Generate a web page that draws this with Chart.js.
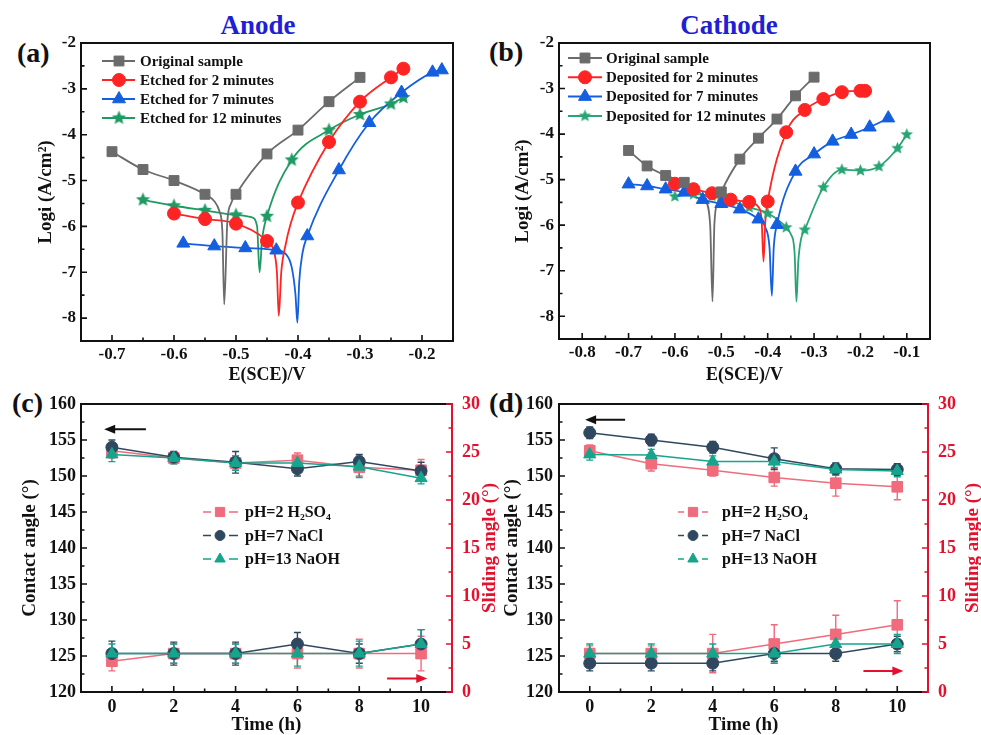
<!DOCTYPE html>
<html>
<head>
<meta charset="utf-8">
<script src="https://cdn.jsdelivr.net/npm/chart.js@4.4.1/dist/chart.umd.min.js"></script>
<style>
  body { margin: 0; background: #fff; width: 981px; height: 735px; overflow: hidden; position: relative; }
  canvas { position: absolute; }
  .lbl { position: absolute; font-family: "Liberation Serif", "Times New Roman", serif; font-weight: bold; white-space: nowrap; line-height: 1; }
  .ttl { color: #1f1fd6; font-size: 27px; transform: translateX(-50%); }
  .pl { color: #111; font-size: 28px; }
</style>
</head>
<body>
<div class="lbl ttl" style="left:258px;top:12px;">Anode</div>
<div class="lbl ttl" style="left:729px;top:12px;">Cathode</div>
<div class="lbl pl" style="left:17px;top:39px;">(a)</div>
<div class="lbl pl" style="left:489px;top:38px;">(b)</div>
<div class="lbl pl" style="left:12px;top:389px;">(c)</div>
<div class="lbl pl" style="left:489px;top:389px;">(d)</div>

<canvas id="chartA" width="490" height="385" style="left:0;top:0"></canvas>
<canvas id="chartB" width="491" height="385" style="left:490px;top:0"></canvas>
<canvas id="chartC" width="500" height="350" style="left:0;top:385px"></canvas>
<canvas id="chartD" width="491" height="350" style="left:490px;top:385px"></canvas>

<script>
// ---- (a) anode polarization curves: [E (V), log i] ----
const anodeNames = ["Original sample", "Etched for 2 minutes", "Etched for 7 minutes", "Etched for 12 minutes"];
const anodeOrigMarks = [[-0.70,-4.37],[-0.65,-4.76],[-0.60,-5.00],[-0.55,-5.30],[-0.50,-5.30],[-0.45,-4.42],[-0.40,-3.90],[-0.35,-3.28],[-0.30,-2.75]];
const anodeOrigDip = [[-0.535,-5.45],[-0.527,-5.66],[-0.522,-6.10],[-0.519,-7.70],[-0.514,-5.90],[-0.508,-5.50]];
const anodeE2Marks = [[-0.60,-5.72],[-0.55,-5.84],[-0.50,-5.94],[-0.45,-6.32],[-0.40,-5.48],[-0.35,-4.16],[-0.30,-3.28],[-0.25,-2.75],[-0.23,-2.56]];
const anodeE2Dip = [[-0.44,-6.50],[-0.434,-7.00],[-0.431,-7.95],[-0.427,-7.00],[-0.42,-6.40],[-0.412,-5.95]];
const anodeE7Marks = [[-0.585,-6.37],[-0.535,-6.43],[-0.485,-6.47],[-0.435,-6.52],[-0.385,-6.21],[-0.334,-4.77],[-0.285,-3.74],[-0.233,-3.08],[-0.183,-2.64],[-0.168,-2.59]];
const anodeE7Dip = [[-0.42,-6.60],[-0.41,-6.90],[-0.404,-7.50],[-0.401,-8.10],[-0.398,-7.20],[-0.393,-6.60]];
const anodeE12Marks = [[-0.65,-5.42],[-0.60,-5.55],[-0.55,-5.65],[-0.50,-5.75],[-0.45,-5.78],[-0.41,-4.55],[-0.35,-3.90],[-0.30,-3.56],[-0.25,-3.33],[-0.23,-3.19]];
const anodeE12Dip = [[-0.475,-5.80],[-0.466,-6.00],[-0.462,-7.00],[-0.458,-6.30]];

// ---- (b) cathode polarization curves ----
const cathodeNames = ["Original sample", "Deposited for 2 minutes", "Deposited for 7 minutes", "Deposited for 12 minutes"];
const cathodeOrigMarks = [[-0.70,-4.36],[-0.66,-4.70],[-0.62,-4.91],[-0.58,-5.06],[-0.50,-5.27],[-0.46,-4.55],[-0.42,-4.09],[-0.38,-3.67],[-0.34,-3.16],[-0.30,-2.75]];
const cathodeOrigDip = [[-0.55,-5.25],[-0.535,-5.45],[-0.524,-6.00],[-0.519,-7.68],[-0.515,-6.00],[-0.508,-5.50]];
const cathodeD2Marks = [[-0.60,-5.09],[-0.56,-5.21],[-0.52,-5.30],[-0.48,-5.44],[-0.44,-5.49],[-0.40,-5.48],[-0.36,-3.96],[-0.32,-3.47],[-0.28,-3.23],[-0.24,-3.08],[-0.20,-3.05],[-0.19,-3.05]];
const cathodeD2Dip = [[-0.42,-5.60],[-0.413,-5.90],[-0.409,-6.80],[-0.405,-5.90]];
const cathodeD7Marks = [[-0.70,-5.10],[-0.66,-5.14],[-0.62,-5.21],[-0.58,-5.28],[-0.54,-5.44],[-0.50,-5.53],[-0.46,-5.65],[-0.42,-5.87],[-0.38,-5.99],[-0.34,-4.82],[-0.30,-4.44],[-0.26,-4.16],[-0.22,-4.01],[-0.18,-3.85],[-0.14,-3.65]];
const cathodeD7Dip = [[-0.405,-6.05],[-0.396,-6.50],[-0.391,-7.55],[-0.387,-6.50]];
const cathodeD12Marks = [[-0.60,-5.37],[-0.56,-5.32],[-0.52,-5.36],[-0.48,-5.47],[-0.44,-5.61],[-0.40,-5.74],[-0.36,-6.05],[-0.32,-6.10],[-0.28,-5.17],[-0.24,-4.78],[-0.20,-4.80],[-0.16,-4.71],[-0.12,-4.31],[-0.10,-4.01]];
const cathodeD12Dip = [[-0.35,-6.20],[-0.342,-6.60],[-0.338,-7.68],[-0.334,-6.80],[-0.328,-6.30]];

const ticksLogi = [-8, -7, -6, -5, -4, -3, -2];
const ticksEa = [-0.7, -0.6, -0.5, -0.4, -0.3, -0.2];
const ticksEb = [-0.8, -0.7, -0.6, -0.5, -0.4, -0.3, -0.2, -0.1];

// ---- (c)/(d) contact and sliding angle vs time ----
const timeH = [0, 2, 4, 6, 8, 10];
const solutions = ["pH=2 H\u2082SO\u2084", "pH=7 NaCl", "pH=13 NaOH"];
const ticksTime = [0, 2, 4, 6, 8, 10];
const ticksContact = [120, 125, 130, 135, 140, 145, 150, 155, 160];
const ticksSliding = [0, 5, 10, 15, 20, 25, 30];

const anodeContactH2SO4 = [153.5, 152.5, 151.8, 152.2, 151.2, 150.8];
const anodeContactNaCl  = [154.0, 152.6, 151.9, 151.0, 152.0, 150.7];
const anodeContactNaOH  = [153.0, 152.5, 151.8, 151.8, 151.3, 149.7];
const anodeContactErrH2SO4 = [1.0, 0.8, 1.0, 1.0, 1.2, 1.5];
const anodeContactErrNaCl  = [1.0, 0.8, 1.5, 1.0, 1.0, 1.2];
const anodeContactErrNaOH  = [1.0, 0.8, 1.0, 0.8, 1.5, 0.8];
const anodeSlideH2SO4 = [3.2, 4, 4, 4, 4, 4];
const anodeSlideNaCl  = [4, 4, 4, 5, 4, 5];
const anodeSlideNaOH  = [4, 4, 4, 4, 4, 5];
const anodeSlideErrH2SO4 = [1.0, 1.0, 1.0, 1.5, 1.5, 1.8];
const anodeSlideErrNaCl  = [1.3, 1.2, 1.2, 1.2, 1.0, 1.5];
const anodeSlideErrNaOH  = [1.0, 1.0, 1.0, 1.3, 1.3, 1.5];

const cathodeContactH2SO4 = [153.5, 151.7, 150.8, 149.8, 149.0, 148.5];
const cathodeContactNaCl  = [156.0, 155.0, 154.0, 152.4, 151.0, 150.9];
const cathodeContactNaOH  = [153.0, 152.9, 152.0, 152.0, 150.9, 150.7];
const cathodeContactErrH2SO4 = [0.8, 1.0, 0.8, 1.2, 1.8, 1.8];
const cathodeContactErrNaCl  = [0.8, 0.8, 0.8, 1.5, 0.8, 0.8];
const cathodeContactErrNaOH  = [0.8, 0.8, 0.8, 0.8, 0.8, 0.8];
const cathodeSlideH2SO4 = [4, 4, 4, 5, 6, 7];
const cathodeSlideNaCl  = [3, 3, 3, 4, 4, 5];
const cathodeSlideNaOH  = [4, 4, 4, 4, 5, 5];
const cathodeSlideErrH2SO4 = [0.8, 0.8, 2.0, 2.0, 2.0, 2.5];
const cathodeSlideErrNaCl  = [0.8, 0.8, 0.8, 0.8, 0.8, 0.8];
const cathodeSlideErrNaOH  = [1.0, 1.0, 1.0, 1.0, 1.5, 1.0];

const SERIF = '"Liberation Serif", "Times New Roman", "DejaVu Serif", serif';
const RED_AXIS = "#e3112e";

function fnt(size) {
    return { family: SERIF, size: size, weight: "bold", lineHeight: 1 };
}

function starImage(color, r) {
    const c = document.createElement("canvas");
    const s = Math.ceil(r * 2 + 2);
    c.width = s;
    c.height = s;
    const g = c.getContext("2d");
    g.beginPath();
    for (let i = 0; i < 10; i++) {
        const ang = -Math.PI / 2 + i * Math.PI / 5;
        const rr = i % 2 ? r * 0.45 : r;
        g.lineTo(s / 2 + rr * Math.cos(ang), s / 2 + rr * Math.sin(ang));
    }
    g.closePath();
    g.fillStyle = color;
    g.fill();
    return c;
}

function drawMark(ctx, style, r, x, y, fill, stroke) {
    ctx.save();
    ctx.fillStyle = fill;
    ctx.strokeStyle = stroke;
    ctx.lineWidth = 1;
    if (style instanceof HTMLCanvasElement) {
        ctx.drawImage(style, x - style.width / 2, y - style.height / 2);
        ctx.restore();
        return;
    }
    ctx.beginPath();
    if (style === "rect") {
        const h = r * Math.SQRT1_2;
        ctx.rect(x - h, y - h, 2 * h, 2 * h);
    } else if (style === "triangle") {
        ctx.moveTo(x, y - r);
        ctx.lineTo(x + r * 0.866, y + r * 0.5);
        ctx.lineTo(x - r * 0.866, y + r * 0.5);
        ctx.closePath();
    } else {
        ctx.arc(x, y, r, 0, Math.PI * 2);
    }
    ctx.fill();
    ctx.stroke();
    ctx.restore();
}

// frame round the plot area plus inward major / minor ticks
const frameTicks = {
    id: "frameTicks",
    afterDatasetsDraw(chart, args, opts) {
        const { ctx, chartArea: a } = chart;
        ctx.save();
        ctx.lineWidth = 2;
        ctx.strokeStyle = "#111";
        ctx.strokeRect(a.left, a.top, a.right - a.left, a.bottom - a.top);
        if (opts.rightColor) {
            ctx.strokeStyle = opts.rightColor;
            ctx.beginPath();
            ctx.moveTo(a.right, a.top - 1);
            ctx.lineTo(a.right, a.bottom + 1);
            ctx.stroke();
        }
        ctx.lineWidth = 1.6;
        Object.values(chart.scales).forEach((s) => {
            const vals = s.ticks.map((t) => t.value);
            const marks = vals.map((v) => [v, 6]);
            for (let i = 0; i < vals.length - 1; i++) marks.push([(vals[i] + vals[i + 1]) / 2, 3.5]);
            ctx.strokeStyle = s.id === "y2" ? opts.rightColor : "#111";
            ctx.beginPath();
            marks.forEach(([v, len]) => {
                const p = s.getPixelForValue(v);
                if (s.id === "x") { ctx.moveTo(p, a.bottom); ctx.lineTo(p, a.bottom - len); }
                else if (s.id === "y") { ctx.moveTo(a.left, p); ctx.lineTo(a.left + len, p); }
                else { ctx.moveTo(a.right, p); ctx.lineTo(a.right - len, p); }
            });
            ctx.stroke();
        });
        ctx.restore();
    }
};

const legendBox = {
    id: "legendBox",
    afterDraw(chart, args, o) {
        if (!o.items) return;
        const ctx = chart.ctx;
        ctx.save();
        o.items.forEach((it, i) => {
            const y = o.y + i * o.step;
            ctx.strokeStyle = it.color;
            ctx.lineWidth = o.lineWidth;
            ctx.beginPath();
            if (o.gap) {
                ctx.moveTo(o.x0, y); ctx.lineTo(o.mx - o.gap, y);
                ctx.moveTo(o.mx + o.gap, y); ctx.lineTo(o.x1, y);
            } else {
                ctx.moveTo(o.x0, y); ctx.lineTo(o.x1, y);
            }
            ctx.stroke();
            drawMark(ctx, it.style, it.radius, o.mx, y, it.fill, it.stroke);
            ctx.fillStyle = "#111";
            ctx.font = "bold " + o.size + "px " + SERIF;
            ctx.textBaseline = "middle";
            ctx.textAlign = "left";
            ctx.fillText(it.label, o.tx, y + 1);
        });
        ctx.restore();
    }
};

const errorBars = {
    id: "errorBars",
    beforeDatasetsDraw(chart) {
        const ctx = chart.ctx;
        chart.data.datasets.forEach((ds, i) => {
            if (!ds.errors) return;
            const meta = chart.getDatasetMeta(i);
            const ys = chart.scales[ds.yAxisID];
            ctx.save();
            ctx.strokeStyle = ds.borderColor;
            ctx.lineWidth = 1.4;
            meta.data.forEach((pt, j) => {
                const v = ds.data[j].y;
                const e = ds.errors[j];
                const top = ys.getPixelForValue(v + e);
                const bot = ys.getPixelForValue(v - e);
                ctx.beginPath();
                ctx.moveTo(pt.x, top); ctx.lineTo(pt.x, bot);
                ctx.moveTo(pt.x - 3.5, top); ctx.lineTo(pt.x + 3.5, top);
                ctx.moveTo(pt.x - 3.5, bot); ctx.lineTo(pt.x + 3.5, bot);
                ctx.stroke();
            });
            ctx.restore();
        });
    }
};

const arrows = {
    id: "arrows",
    afterDatasetsDraw(chart, args, o) {
        if (!o.list) return;
        const ctx = chart.ctx;
        ctx.save();
        o.list.forEach((a) => {
            const xs = chart.scales.x;
            const ys = chart.scales[a.axis];
            const x1 = xs.getPixelForValue(a.from);
            const x2 = xs.getPixelForValue(a.to);
            const y = ys.getPixelForValue(a.at);
            const dir = Math.sign(x2 - x1);
            ctx.strokeStyle = a.color;
            ctx.fillStyle = a.color;
            ctx.lineWidth = 2;
            ctx.beginPath();
            ctx.moveTo(x1, y);
            ctx.lineTo(x2 - dir * 8, y);
            ctx.stroke();
            ctx.beginPath();
            ctx.moveTo(x2, y);
            ctx.lineTo(x2 - dir * 11, y - 4.5);
            ctx.lineTo(x2 - dir * 11, y + 4.5);
            ctx.closePath();
            ctx.fill();
        });
        ctx.restore();
    }
};

const rightTitle = {
    id: "rightTitle",
    afterDraw(chart, args, o) {
        if (!o.text) return;
        const ctx = chart.ctx;
        const a = chart.chartArea;
        ctx.save();
        ctx.translate(o.x, (a.top + a.bottom) / 2);
        ctx.rotate(-Math.PI / 2);
        ctx.fillStyle = o.color;
        ctx.font = "bold " + o.size + "px " + SERIF;
        ctx.textAlign = "center";
        ctx.textBaseline = "middle";
        ctx.fillText(o.text, 0, 0);
        ctx.restore();
    }
};

function fixedTicks(list) {
    return (s) => { s.ticks = list.map((v) => ({ value: v })); };
}

function axisBase(tickList, size, digits, color, padding) {
    return {
        type: "linear",
        afterBuildTicks: fixedTicks(tickList),
        grid: { display: false, drawTicks: false },
        border: { display: false },
        ticks: {
            font: fnt(size),
            color: color,
            padding: padding,
            autoSkip: false,
            maxRotation: 0,
            callback: (v) => Number(v).toFixed(digits)
        }
    };
}

function pts(pairs) {
    return pairs.map((p) => ({ x: p[0], y: p[1] }));
}

function polChart(id, names, marks, dips, colors, styles, radii, geo, legend) {
    const datasets = [];
    names.forEach((name, i) => {
        const curve = marks[i].concat(dips[i]).sort((p, q) => p[0] - q[0]);
        datasets.push({
            label: name,
            data: pts(curve),
            borderColor: colors[i],
            borderWidth: 1.8,
            pointRadius: 0,
            cubicInterpolationMode: "monotone",
            order: 10 + i
        });
        datasets.push({
            label: name,
            data: pts(marks[i]),
            showLine: false,
            pointStyle: styles[i],
            pointRadius: radii[i],
            backgroundColor: colors[i],
            borderColor: colors[i],
            borderWidth: 1,
            order: i
        });
    });

    const x = axisBase(geo.xTicks, 17, 1, "#111", 5);
    x.min = geo.xMin;
    x.max = geo.xMax;
    x.afterFit = (s) => { s.height = geo.xH; };
    x.title = { display: true, text: "E(SCE)/V", font: fnt(18), color: "#111", padding: { top: 0, bottom: 1 } };

    const y = axisBase(ticksLogi, 17, 0, "#111", 5);
    y.min = -8.5;
    y.max = -2;
    y.afterFit = (s) => { s.width = geo.yW; };
    y.title = { display: true, text: "Logi (A/cm\u00b2)", font: fnt(19), color: "#111", padding: { top: geo.yTitlePad, bottom: 0 } };

    return new Chart(document.getElementById(id), {
        type: "line",
        data: { datasets },
        options: {
            responsive: false,
            animation: false,
            devicePixelRatio: 1,
            events: [],
            layout: { padding: geo.pad },
            scales: { x, y },
            plugins: {
                legend: { display: false },
                tooltip: { enabled: false },
                frameTicks: {},
                legendBox: {
                    ...legend,
                    items: names.map((n, i) => ({
                        label: n, color: colors[i], style: styles[i], radius: radii[i],
                        fill: colors[i], stroke: colors[i]
                    }))
                }
            }
        },
        plugins: [frameTicks, legendBox]
    });
}

const angleColors = ["#f06b7c", "#2f4860", "#17a48c"];
const angleStyles = ["rect", "circle", "triangle"];
const angleRadii = [7.5, 6, 7];
const angleOrder = [2, 1, 0];

function angleChart(id, contact, contactErr, slide, slideErr, geo, legend, arrowList) {
    const datasets = [];
    solutions.forEach((name, i) => {
        const common = {
            borderColor: angleColors[i],
            backgroundColor: angleColors[i],
            borderWidth: 1.5,
            pointStyle: angleStyles[i],
            pointRadius: angleRadii[i],
            pointBorderWidth: 1,
            order: angleOrder[i]
        };
        datasets.push({ ...common, label: name, yAxisID: "y",
            data: timeH.map((t, j) => ({ x: t, y: contact[i][j] })), errors: contactErr[i] });
        datasets.push({ ...common, label: name, yAxisID: "y2",
            data: timeH.map((t, j) => ({ x: t, y: slide[i][j] })), errors: slideErr[i] });
    });

    const x = axisBase(ticksTime, 18, 0, "#111", 6);
    x.min = -1;
    x.max = 11;
    x.afterFit = (s) => { s.height = geo.xH; };
    x.title = { display: true, text: "Time (h)", font: fnt(19), color: "#111", padding: { top: 0, bottom: 0 } };

    const y = axisBase(ticksContact, 18, 0, "#111", geo.yPad);
    y.min = 120;
    y.max = 160;
    y.afterFit = (s) => { s.width = geo.yW; };
    y.title = { display: true, text: "Contact angle (\u00b0)", font: fnt(19), color: "#111", padding: { top: geo.yTitlePad, bottom: 0 } };

    const y2 = axisBase(ticksSliding, 18, 0, RED_AXIS, 10);
    y2.position = "right";
    y2.min = 0;
    y2.max = 30;
    y2.afterFit = (s) => { s.width = geo.y2W; };

    return new Chart(document.getElementById(id), {
        type: "line",
        data: { datasets },
        options: {
            responsive: false,
            animation: false,
            devicePixelRatio: 1,
            events: [],
            layout: { padding: geo.pad },
            scales: { x, y, y2 },
            plugins: {
                legend: { display: false },
                tooltip: { enabled: false },
                frameTicks: { rightColor: RED_AXIS },
                legendBox: {
                    ...legend,
                    items: solutions.map((n, i) => ({
                        label: n, color: angleColors[i], style: angleStyles[i], radius: angleRadii[i] - 1,
                        fill: angleColors[i], stroke: angleColors[i]
                    }))
                },
                arrows: { list: arrowList },
                rightTitle: { text: "Sliding angle (\u00b0)", x: geo.rtX, color: RED_AXIS, size: 19 }
            }
        },
        plugins: [errorBars, frameTicks, legendBox, arrows, rightTitle]
    });
}

polChart("chartA", anodeNames,
    [anodeOrigMarks, anodeE2Marks, anodeE7Marks, anodeE12Marks],
    [anodeOrigDip, anodeE2Dip, anodeE7Dip, anodeE12Dip],
    ["#6b6b6b", "#ff2424", "#145fe0", "#1f9a62"],
    ["rect", "circle", "triangle", starImage("#1f9a62", 7.5)],
    [7, 6.5, 7.5, 7.5],
    { xMin: -0.75, xMax: -0.15, xTicks: ticksEa, xH: 44, yW: 81, yTitlePad: 37,
      pad: { left: 0, right: 37, top: 43, bottom: 0 } },
    { x0: 102, x1: 135, mx: 119, tx: 140, y: 61, step: 19, size: 15, lineWidth: 2 });

polChart("chartB", cathodeNames,
    [cathodeOrigMarks, cathodeD2Marks, cathodeD7Marks, cathodeD12Marks],
    [cathodeOrigDip, cathodeD2Dip, cathodeD7Dip, cathodeD12Dip],
    ["#6b6b6b", "#ff2424", "#145fe0", "#27a575"],
    ["rect", "circle", "triangle", starImage("#27a575", 6.5)],
    [7, 6.5, 7.5, 6.5],
    { xMin: -0.85, xMax: -0.05, xTicks: ticksEb, xH: 46, yW: 69, yTitlePad: 24,
      pad: { left: 0, right: 51, top: 43, bottom: 0 } },
    { x0: 78, x1: 112, mx: 95, tx: 116, y: 58, step: 19.3, size: 15, lineWidth: 2 });

angleChart("chartC",
    [anodeContactH2SO4, anodeContactNaCl, anodeContactNaOH],
    [anodeContactErrH2SO4, anodeContactErrNaCl, anodeContactErrNaOH],
    [anodeSlideH2SO4, anodeSlideNaCl, anodeSlideNaOH],
    [anodeSlideErrH2SO4, anodeSlideErrNaCl, anodeSlideErrNaOH],
    { xH: 43, yW: 81, y2W: 48, yPad: 5, yTitlePad: 21, rtX: 490,
      pad: { left: 0, right: 0, top: 10, bottom: 0 } },
    { x0: 203, x1: 238, mx: 220, tx: 245, y: 127, step: 23.5, size: 16, lineWidth: 1.5, gap: 9 },
    [{ axis: "y", from: 1.1, to: -0.25, at: 156.5, color: "#111" },
     { axis: "y2", from: 8.9, to: 10.2, at: 1.4, color: RED_AXIS }]);

angleChart("chartD",
    [cathodeContactH2SO4, cathodeContactNaCl, cathodeContactNaOH],
    [cathodeContactErrH2SO4, cathodeContactErrNaCl, cathodeContactErrNaOH],
    [cathodeSlideH2SO4, cathodeSlideNaCl, cathodeSlideNaOH],
    [cathodeSlideErrH2SO4, cathodeSlideErrNaCl, cathodeSlideErrNaOH],
    { xH: 43, yW: 69, y2W: 53, yPad: 6, yTitlePad: 13, rtX: 483,
      pad: { left: 0, right: 0, top: 10, bottom: 0 } },
    { x0: 188, x1: 218, mx: 203, tx: 232, y: 127, step: 23.5, size: 16, lineWidth: 1.5, gap: 9 },
    [{ axis: "y", from: 1.15, to: -0.15, at: 157.8, color: "#111" },
     { axis: "y2", from: 8.9, to: 10.2, at: 2.2, color: RED_AXIS }]);
</script>
</body>
</html>
